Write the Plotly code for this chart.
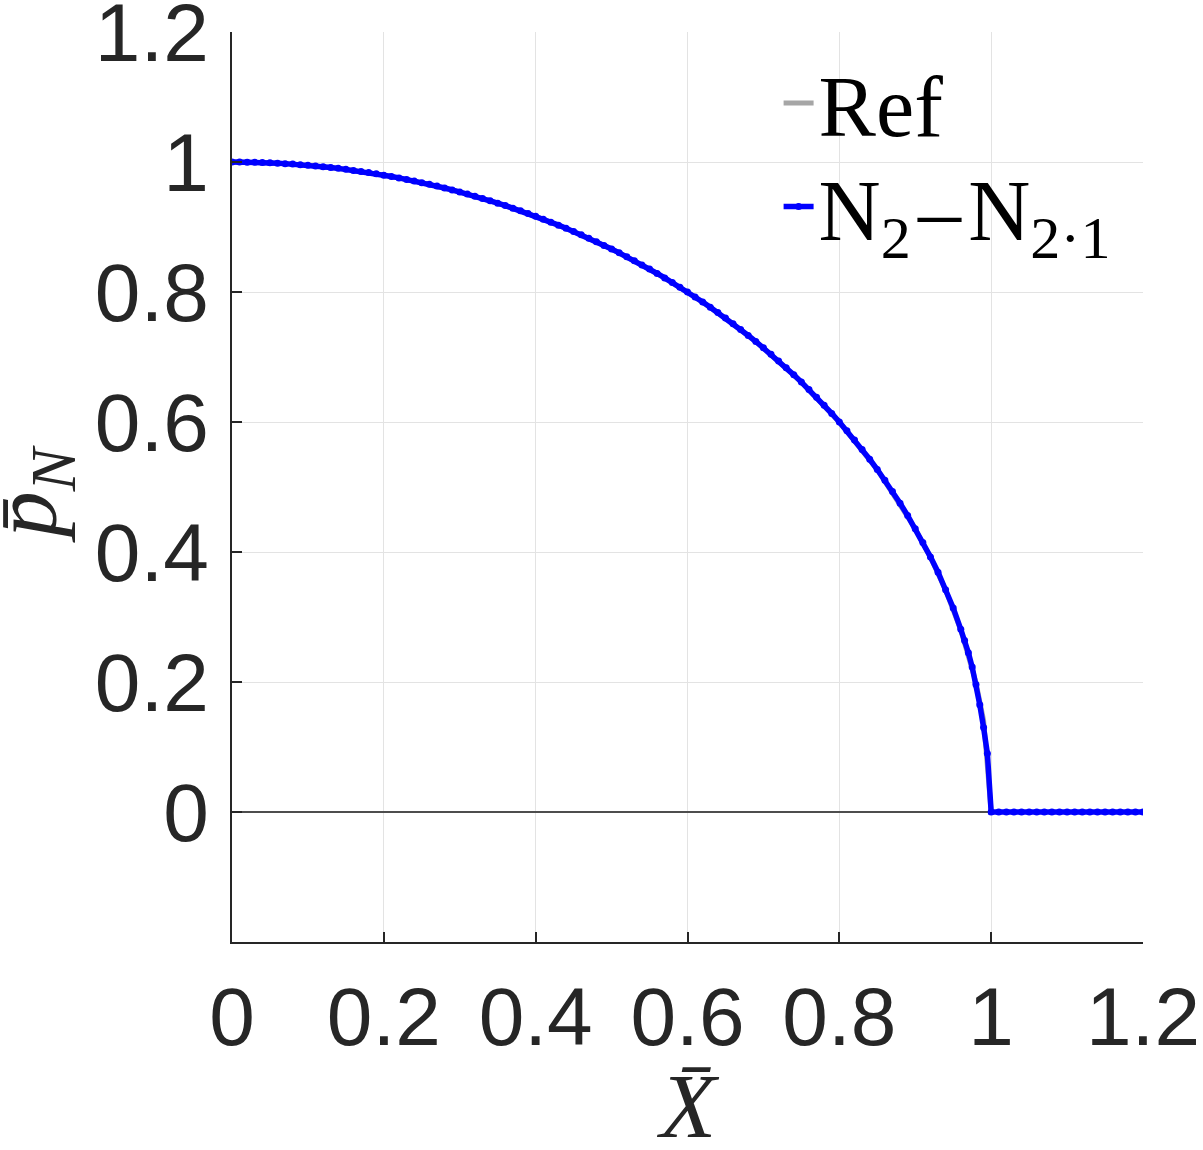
import plotly.graph_objects as go

# Reference solution (gray)
ref_x = [0.00, 0.05, 0.10, 0.15, 0.20, 0.25, 0.30, 0.35, 0.40, 0.45, 0.50, 0.55,
         0.60, 0.65, 0.70, 0.75, 0.80, 0.85, 0.90, 0.92, 0.94, 0.96, 0.98, 0.99, 1.00]
ref_y = [1.0000, 0.9987, 0.9950, 0.9887, 0.9798, 0.9682, 0.9539, 0.9367, 0.9165, 0.8930,
         0.8660, 0.8352, 0.8000, 0.7599, 0.7141, 0.6614, 0.6000, 0.5268, 0.4359, 0.3919,
         0.3412, 0.2800, 0.1990, 0.1411, 0.0000]

# N2-N2.1 (blue, with markers)
n_x = [0.00, 0.01, 0.02, 0.03, 0.04, 0.05, 0.06, 0.07, 0.08, 0.09,
       0.10, 0.11, 0.12, 0.13, 0.14, 0.15, 0.16, 0.17, 0.18, 0.19,
       0.20, 0.21, 0.22, 0.23, 0.24, 0.25, 0.26, 0.27, 0.28, 0.29,
       0.30, 0.31, 0.32, 0.33, 0.34, 0.35, 0.36, 0.37, 0.38, 0.39,
       0.40, 0.41, 0.42, 0.43, 0.44, 0.45, 0.46, 0.47, 0.48, 0.49,
       0.50, 0.51, 0.52, 0.53, 0.54, 0.55, 0.56, 0.57, 0.58, 0.59,
       0.60, 0.61, 0.62, 0.63, 0.64, 0.65, 0.66, 0.67, 0.68, 0.69,
       0.70, 0.71, 0.72, 0.73, 0.74, 0.75, 0.76, 0.77, 0.78, 0.79,
       0.80, 0.81, 0.82, 0.83, 0.84, 0.85, 0.86, 0.87, 0.88, 0.89,
       0.90, 0.91, 0.92, 0.93, 0.94, 0.95, 0.96, 0.965, 0.97, 0.975,
       0.98, 0.985, 0.99, 0.995, 1.00,
       1.01, 1.02, 1.03, 1.04, 1.05, 1.06, 1.07, 1.08, 1.09, 1.10,
       1.11, 1.12, 1.13, 1.14, 1.15, 1.16, 1.17, 1.18, 1.19, 1.20]
n_y = [1.0000, 1.0000, 0.9998, 0.9995, 0.9992, 0.9987, 0.9982, 0.9975, 0.9968, 0.9959,
       0.9950, 0.9939, 0.9928, 0.9915, 0.9902, 0.9887, 0.9871, 0.9854, 0.9837, 0.9818,
       0.9798, 0.9777, 0.9755, 0.9732, 0.9708, 0.9682, 0.9656, 0.9629, 0.9600, 0.9570,
       0.9539, 0.9507, 0.9474, 0.9440, 0.9404, 0.9367, 0.9330, 0.9290, 0.9250, 0.9208,
       0.9165, 0.9121, 0.9075, 0.9028, 0.8980, 0.8930, 0.8879, 0.8827, 0.8773, 0.8717,
       0.8660, 0.8602, 0.8542, 0.8480, 0.8417, 0.8352, 0.8285, 0.8216, 0.8146, 0.8074,
       0.8000, 0.7924, 0.7846, 0.7766, 0.7684, 0.7599, 0.7513, 0.7424, 0.7332, 0.7238,
       0.7141, 0.7042, 0.6940, 0.6834, 0.6726, 0.6614, 0.6499, 0.6380, 0.6258, 0.6131,
       0.6000, 0.5864, 0.5724, 0.5578, 0.5426, 0.5268, 0.5103, 0.4931, 0.4750, 0.4560,
       0.4359, 0.4146, 0.3925, 0.3690, 0.3420, 0.3140, 0.2810, 0.2640, 0.2450, 0.2230,
       0.1960, 0.1650, 0.1300, 0.0900, 0.0000,
       0.0, 0.0, 0.0, 0.0, 0.0, 0.0, 0.0, 0.0, 0.0, 0.0,
       0.0, 0.0, 0.0, 0.0, 0.0, 0.0, 0.0, 0.0, 0.0, 0.0]

x_ticks = [0, 0.2, 0.4, 0.6, 0.8, 1.0, 1.2]
x_tick_labels = ["0", "0.2", "0.4", "0.6", "0.8", "1", "1.2"]
y_ticks = [0, 0.2, 0.4, 0.6, 0.8, 1.0, 1.2]
y_tick_labels = ["0", "0.2", "0.4", "0.6", "0.8", "1", "1.2"]

serif = "Liberation Serif, Times New Roman, serif"
sans = "Liberation Sans, Arial, Helvetica, sans-serif"

fig = go.Figure()
fig.add_trace(go.Scatter(
    x=ref_x, y=ref_y, mode="lines", name="Ref", legend="legend",
    line=dict(color="#a6a6a6", width=5),
))
fig.add_trace(go.Scatter(
    x=n_x, y=n_y, mode="lines+markers",
    name="N<sub>2</sub>\u200a\u2013\u200aN<sub>2\u00b71</sub>",
    legend="legend2",
    line=dict(color="#0000ff", width=5.5),
    marker=dict(color="#0000ff", size=7),
))

axis_common = dict(
    showgrid=True, gridcolor="#e3e3e3", gridwidth=1,
    showline=True, linecolor="#262626", linewidth=1.5,
    ticks="inside", ticklen=10, tickwidth=1.5, tickcolor="#262626",
    tickfont=dict(family=sans, size=82, color="#262626"),
    mirror=False, automargin=False, ticklabeloverflow="allow",
)

legend_common = dict(
    xanchor="left", yanchor="middle",
    font=dict(family=serif, size=86, color="black"),
    bgcolor="rgba(0,0,0,0)", borderwidth=0,
    itemwidth=30, tracegroupgap=0,
)

fig.update_layout(
    width=1203, height=1150,
    margin=dict(l=232, r=60, t=32, b=208),
    paper_bgcolor="white", plot_bgcolor="white",
    showlegend=True,
    legend=dict(x=0.600, y=0.922, **legend_common),
    legend2=dict(x=0.600, y=0.808, **legend_common),
    xaxis=dict(
        range=[0, 1.2], tickvals=x_ticks, ticktext=x_tick_labels,
        zeroline=False, ticklabelstandoff=3,
        **axis_common,
    ),
    yaxis=dict(
        range=[-0.2, 1.2], tickvals=y_ticks, ticktext=y_tick_labels,
        zeroline=True, zerolinecolor="#4d4d4d", zerolinewidth=1.5,
        ticklabelstandoff=5,
        **axis_common,
    ),
    annotations=[
        dict(text="<i>X\u0304</i>", xref="paper", yref="paper", x=0.5, y=-0.180,
             xanchor="center", yanchor="middle", showarrow=False,
             font=dict(family=serif, size=92, color="#262626")),
        dict(text="<i>p\u0304</i><sub><i>N</i></sub>", xref="paper", yref="paper",
             x=-0.220, y=0.4915, xanchor="center", yanchor="middle", showarrow=False,
             textangle=-90, font=dict(family=serif, size=92, color="#262626")),
    ],
)

fig.write_html("out.html")
